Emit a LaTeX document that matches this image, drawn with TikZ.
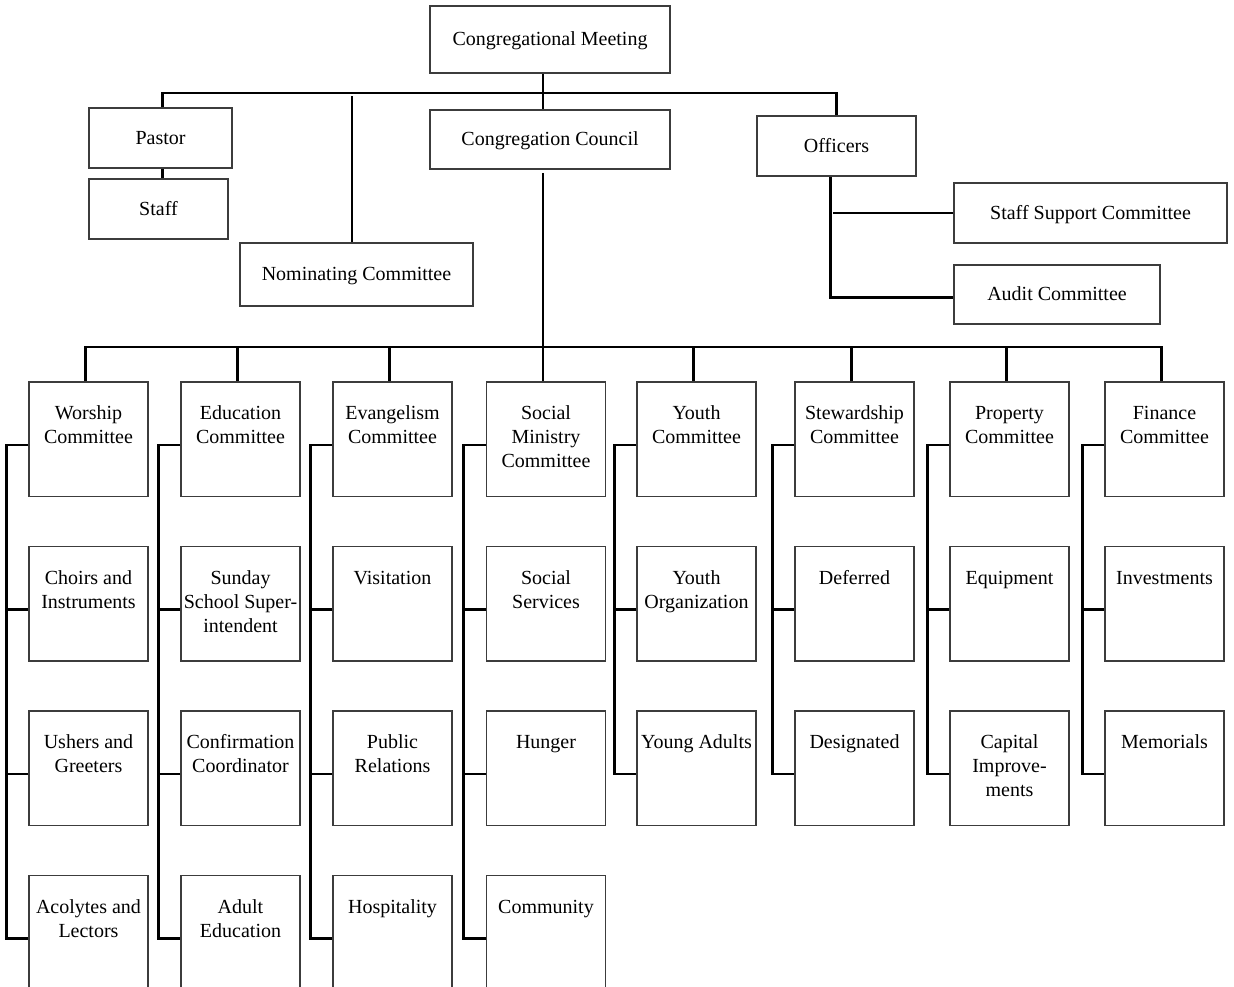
\documentclass[tikz,border=0pt]{standalone}
\usepackage{fontspec}
\setmainfont{Liberation Serif}
\usetikzlibrary{positioning}
\definecolor{boxGray}{RGB}{60,60,60}
\newcommand{\celltext}[1]{\parbox[t][36pt][t]{59pt}{\centering\strut #1\strut}}

\begin{document}
\begin{tikzpicture}[
    x=0.5pt, y=-0.5pt,
    font=\fontsize{10}{12}\selectfont,
    node distance=24.25pt,
    office/.style={rectangle, draw=boxGray, line width=0.75pt, inner sep=0pt, text height=7pt, text depth=1pt},
    unit/.style={rectangle, draw=boxGray, line width=0.75pt, inner sep=0pt, minimum width=59.5pt, minimum height=57.25pt},
    link/.style={line width=1.3pt, black}
]
    \useasboundingbox (0,0) rectangle (1234,986);
    \clip (0,0) rectangle (1234,986);

    % Top level
    \node[office, minimum width=120pt, minimum height=33.5pt] (meeting) at (550,39.5) {Congregational Meeting};
    \node[office, minimum width=120pt, minimum height=29.5pt] (council) at (550,139.5) {Congregation Council};
    \node[office, minimum width=71.5pt, minimum height=30pt] (pastor) at (160.5,138) {Pastor};
    \node[office, minimum width=69.5pt, minimum height=30pt] (staff) at (158.5,209) {Staff};
    \node[office, minimum width=116.5pt, minimum height=31.5pt] (nominating) at (356.5,274.5) {Nominating Committee};
    \node[office, minimum width=79.5pt, minimum height=30pt] (officers) at (836.5,146) {Officers};
    \node[office, minimum width=136.5pt, minimum height=30pt] (staffsupport) at (1090.5,213) {Staff Support Committee};
    \node[office, minimum width=103pt, minimum height=29.5pt] (audit) at (1057,294.5) {Audit Committee};

    \coordinate (spine) at (543,93);
    \coordinate (nomtap) at (352,96);
    \coordinate (bus) at (543,347);

    % Top connections
    \draw[link] (meeting.south -| spine) -- (council.north -| spine);
    \draw[link] ([xshift=1pt]pastor.north) |- (spine) -| (officers.north);
    \draw[link] (nomtap) -- (nomtap |- nominating.north);
    \draw[link] ([xshift=1pt]pastor.south) -- ([xshift=1pt]pastor.south |- staff.north);
    \draw[link] ([xshift=-3pt]officers.south) |- ([yshift=-1.5pt]audit.west);
    \draw[link] (staffsupport.west) -- ++(-60pt,0);
    \draw[link] ([yshift=-1.5pt]council.south -| spine) -- (bus);

    % Worship
    \node[unit, anchor=north] (worship) at (88.5,381) {\celltext{Worship\\Committee}};
    \node[unit, below=of worship] (choirs) {\celltext{Choirs and\\Instruments}};
    \node[unit, below=of choirs] (ushers) {\celltext{Ushers and\\Greeters}};
    \node[unit, below=of ushers] (acolytes) {\celltext{Acolytes and\\Lectors}};

    % Education
    \node[unit, anchor=north] (education) at (240.5,381) {\celltext{Education\\Committee}};
    \node[unit, below=of education] (sunday) {\celltext{Sunday\\School Super-\\intendent}};
    \node[unit, below=of sunday] (confirmation) {\celltext{Confirmation\\Coordinator}};
    \node[unit, below=of confirmation] (adult) {\celltext{Adult\\Education}};

    % Evangelism
    \node[unit, anchor=north] (evangelism) at (392.5,381) {\celltext{Evangelism\\Committee}};
    \node[unit, below=of evangelism] (visitation) {\celltext{Visitation}};
    \node[unit, below=of visitation] (public) {\celltext{Public\\Relations}};
    \node[unit, below=of public] (hospitality) {\celltext{Hospitality}};

    % Social Ministry
    \node[unit, anchor=north] (social) at (546,381) {\celltext{Social\\Ministry\\Committee}};
    \node[unit, below=of social] (services) {\celltext{Social\\Services}};
    \node[unit, below=of services] (hunger) {\celltext{Hunger}};
    \node[unit, below=of hunger] (community) {\celltext{Community}};

    % Youth
    \node[unit, anchor=north] (youth) at (696.5,381) {\celltext{Youth\\Committee}};
    \node[unit, below=of youth] (organization) {\celltext{Youth\\Organization}};
    \node[unit, below=of organization] (adults) {\celltext{Young Adults}};

    % Stewardship
    \node[unit, anchor=north] (stewardship) at (854.5,381) {\celltext{Stewardship\\Committee}};
    \node[unit, below=of stewardship] (deferred) {\celltext{Deferred}};
    \node[unit, below=of deferred] (designated) {\celltext{Designated}};

    % Property
    \node[unit, anchor=north] (property) at (1009.5,381) {\celltext{Property\\Committee}};
    \node[unit, below=of property] (equipment) {\celltext{Equipment}};
    \node[unit, below=of equipment] (capital) {\celltext{Capital\\Improve-\\ments}};

    % Finance
    \node[unit, anchor=north] (finance) at (1164.5,381) {\celltext{Finance\\Committee}};
    \node[unit, below=of finance] (investments) {\celltext{Investments}};
    \node[unit, below=of investments] (memorials) {\celltext{Memorials}};

    % Committee bus
    \draw[link] ([xshift=-1.5pt]worship.north) |- ([xshift=-1.5pt]finance.north |- bus) -- ([xshift=-1.5pt]finance.north);
    \draw[link] ([xshift=-1.5pt]education.north) -- ([xshift=-1.5pt]education.north |- bus);
    \draw[link] ([xshift=-1.5pt]evangelism.north) -- ([xshift=-1.5pt]evangelism.north |- bus);
    \draw[link] ([xshift=-1.5pt]social.north) -- ([xshift=-1.5pt]social.north |- bus);
    \draw[link] ([xshift=-1.5pt]youth.north) -- ([xshift=-1.5pt]youth.north |- bus);
    \draw[link] ([xshift=-1.5pt]stewardship.north) -- ([xshift=-1.5pt]stewardship.north |- bus);
    \draw[link] ([xshift=-1.5pt]property.north) -- ([xshift=-1.5pt]property.north |- bus);

    % Brackets
    \draw[link] ([yshift=-3pt]worship.west) -- ++(-11pt,0) |- ([yshift=-3pt]acolytes.west);
    \draw[link] ([yshift=-3pt]choirs.west) -- ++(-11pt,0);
    \draw[link] ([yshift=-3pt]ushers.west) -- ++(-11pt,0);
    \draw[link] ([yshift=-3pt]education.west) -- ++(-11pt,0) |- ([yshift=-3pt]adult.west);
    \draw[link] ([yshift=-3pt]sunday.west) -- ++(-11pt,0);
    \draw[link] ([yshift=-3pt]confirmation.west) -- ++(-11pt,0);
    \draw[link] ([yshift=-3pt]evangelism.west) -- ++(-11pt,0) |- ([yshift=-3pt]hospitality.west);
    \draw[link] ([yshift=-3pt]visitation.west) -- ++(-11pt,0);
    \draw[link] ([yshift=-3pt]public.west) -- ++(-11pt,0);
    \draw[link] ([yshift=-3pt]social.west) -- ++(-11pt,0) |- ([yshift=-3pt]community.west);
    \draw[link] ([yshift=-3pt]services.west) -- ++(-11pt,0);
    \draw[link] ([yshift=-3pt]hunger.west) -- ++(-11pt,0);
    \draw[link] ([yshift=-3pt]youth.west) -- ++(-11pt,0) |- ([yshift=-3pt]adults.west);
    \draw[link] ([yshift=-3pt]organization.west) -- ++(-11pt,0);
    \draw[link] ([yshift=-3pt]stewardship.west) -- ++(-11pt,0) |- ([yshift=-3pt]designated.west);
    \draw[link] ([yshift=-3pt]deferred.west) -- ++(-11pt,0);
    \draw[link] ([yshift=-3pt]property.west) -- ++(-11pt,0) |- ([yshift=-3pt]capital.west);
    \draw[link] ([yshift=-3pt]equipment.west) -- ++(-11pt,0);
    \draw[link] ([yshift=-3pt]finance.west) -- ++(-11pt,0) |- ([yshift=-3pt]memorials.west);
    \draw[link] ([yshift=-3pt]investments.west) -- ++(-11pt,0);
\end{tikzpicture}
\end{document}
